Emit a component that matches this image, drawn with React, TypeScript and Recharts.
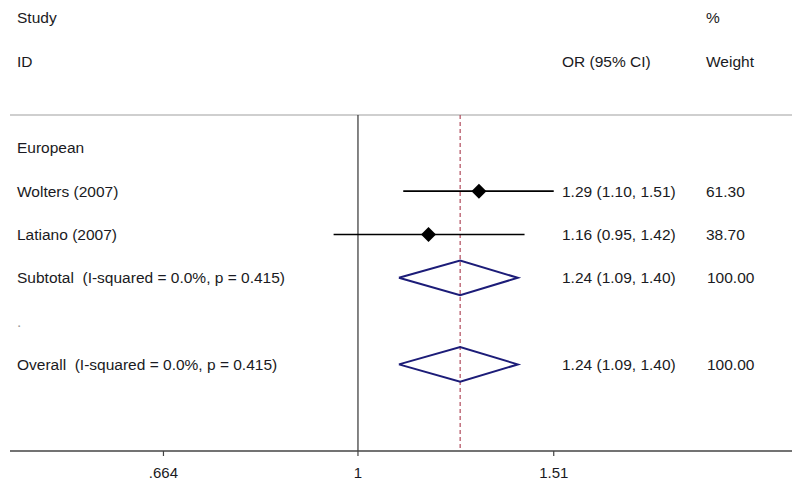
import React from 'react';
import { ComposedChart, Line, Scatter, XAxis, YAxis, ReferenceLine, Customized } from 'recharts';

// study rows
const studyNames = ['Wolters (2007)', 'Latiano (2007)'];
const studyOR = [1.29, 1.16];
const studyLow = [1.1, 0.95];
const studyHigh = [1.51, 1.42];
const studyWeight = ['61.30', '38.70'];
const studyRows = [4, 5];

// pooled rows (subtotal, overall)
const pooledNames = ['Subtotal  (I-squared = 0.0%, p = 0.415)', 'Overall  (I-squared = 0.0%, p = 0.415)'];
const pooledOR = [1.24, 1.24];
const pooledLow = [1.09, 1.09];
const pooledHigh = [1.4, 1.4];
const pooledWeight = ['100.00', '100.00'];
const pooledRows = [6, 8];

const xTicks = [0.664, 1, 1.51];
const xTickLabels = ['.664', '1', '1.51'];

const W = 800;
const H = 487;
const M = { top: 18, right: 6, bottom: 6, left: 10 };
const AXIS_H = 30;
const ROWS = 10;
const HEADER_ROW = 2.24;
const FONT = 'Arial, "Liberation Sans", sans-serif';
const TEXT = '#1a1a22';

const rowY = (r: number) => M.top + (r * (H - M.top - M.bottom - AXIS_H)) / ROWS;

const fmt = (v: number) => v.toFixed(2);

const Diamond = (props: any) => {
  const { cx, cy } = props;
  const s = 7.5;
  return <polygon points={`${cx - s},${cy} ${cx},${cy - s} ${cx + s},${cy} ${cx},${cy + s}`} fill="#000" />;
};

const Labels = () => {
  const t = (x: number, r: number, s: string, key: string, fill = TEXT) => (
    <text key={key} x={x} y={rowY(r)} dy="0.35em" fontSize={15.5} fontFamily={FONT} fill={fill} style={{ whiteSpace: 'pre' }}>
      {s}
    </text>
  );
  return (
    <g>
      {t(17, 0, 'Study', 'h1')}
      {t(17, 1, 'ID', 'h2')}
      {t(562, 1, 'OR (95% CI)', 'h3')}
      {t(706, 0, '%', 'h4')}
      {t(706, 1, 'Weight', 'h5')}
      {t(17, 3, 'European', 'grp')}
      {studyNames.map((n, i) => t(17, studyRows[i], n, `sn${i}`))}
      {studyNames.map((_, i) =>
        t(562, studyRows[i], `${fmt(studyOR[i])} (${fmt(studyLow[i])}, ${fmt(studyHigh[i])})`, `so${i}`)
      )}
      {studyWeight.map((w, i) => t(706, studyRows[i], w, `sw${i}`))}
      {pooledNames.map((n, i) => t(17, pooledRows[i], n, `pn${i}`))}
      {pooledNames.map((_, i) =>
        t(562, pooledRows[i], `${fmt(pooledOR[i])} (${fmt(pooledLow[i])}, ${fmt(pooledHigh[i])})`, `po${i}`)
      )}
      {pooledWeight.map((w, i) => t(707, pooledRows[i], w, `pw${i}`))}
      {t(17, 7, '.', 'dot', '#999')}
    </g>
  );
};

export default function App() {
  return (
    <div style={{ margin: -8, width: W, height: H, background: '#fff' }}>
      <ComposedChart width={W} height={H} margin={M}>
        <XAxis
          type="number"
          dataKey="x"
          scale="log"
          domain={[0.4807, 2.504]}
          allowDataOverflow
          ticks={xTicks}
          tickFormatter={(v: number) => xTickLabels[xTicks.indexOf(v)] ?? String(v)}
          height={AXIS_H}
          tickSize={5}
          tickMargin={11}
          axisLine={{ stroke: '#444', strokeWidth: 1.5 }}
          tickLine={{ stroke: '#444', strokeWidth: 1.2 }}
          tick={{ fill: TEXT, fontSize: 15, fontFamily: FONT }}
        />
        <YAxis type="number" dataKey="y" domain={[0, ROWS]} reversed hide />
        <ReferenceLine y={HEADER_ROW} stroke="#cfcfcf" strokeWidth={2} />
        <ReferenceLine segment={[{ x: 1, y: HEADER_ROW }, { x: 1, y: ROWS }]} stroke="#333" strokeWidth={1.2} />
        <ReferenceLine
          segment={[{ x: pooledOR[1], y: HEADER_ROW }, { x: pooledOR[1], y: ROWS }]}
          stroke="#b04a5c"
          strokeWidth={1.2}
          strokeDasharray="4 3"
        />
        {studyNames.map((n, i) => (
          <Line
            key={n}
            data={[
              { x: studyLow[i], y: studyRows[i] },
              { x: studyHigh[i], y: studyRows[i] },
            ]}
            dataKey="y"
            stroke="#000"
            strokeWidth={1.7}
            dot={false}
            isAnimationActive={false}
          />
        ))}
        <Scatter
          data={studyOR.map((v, i) => ({ x: v, y: studyRows[i] }))}
          shape={<Diamond />}
          isAnimationActive={false}
        />
        {pooledNames.map((n, i) => {
          const r = pooledRows[i];
          return (
            <Line
              key={n}
              data={[
                { x: pooledLow[i], y: r },
                { x: pooledOR[i], y: r - 0.4 },
                { x: pooledHigh[i], y: r },
                { x: pooledOR[i], y: r + 0.4 },
                { x: pooledLow[i], y: r },
              ]}
              dataKey="y"
              stroke="#1c1c78"
              strokeWidth={2}
              strokeLinejoin="miter"
              dot={false}
              isAnimationActive={false}
            />
          );
        })}
        <Customized component={Labels} />
      </ComposedChart>
    </div>
  );
}
